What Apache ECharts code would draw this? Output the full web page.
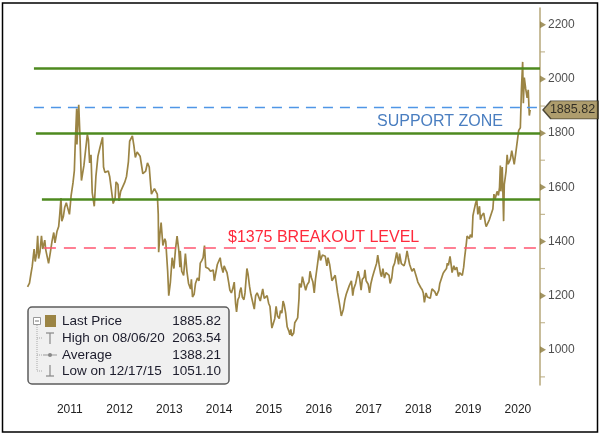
<!DOCTYPE html>
<html>
<head>
<meta charset="utf-8">
<script src="https://cdn.jsdelivr.net/npm/echarts@6/dist/echarts.min.js"></script>
<style>
html, body { margin: 0; padding: 0; background: #fff; }
#chart { width: 600px; height: 435px; }
</style>
</head>
<body>
<div id="chart"></div>
<script>
// gold price
var dates = [
	"2010-08-27","2010-09-10","2010-09-20","2010-09-30","2010-10-08","2010-10-14","2010-10-22","2010-11-01","2010-11-09","2010-11-16","2010-11-26","2010-12-07","2010-12-16","2010-12-31",
	"2011-01-07","2011-01-18","2011-01-28","2011-02-10","2011-02-22","2011-03-07","2011-03-16","2011-03-31","2011-04-12","2011-04-20","2011-04-29","2011-05-05","2011-05-16","2011-05-26","2011-06-07","2011-06-20","2011-06-30","2011-07-12","2011-07-26","2011-08-05","2011-08-11","2011-08-22","2011-08-24","2011-09-06","2011-09-15","2011-09-23","2011-09-26","2011-10-04","2011-10-14","2011-10-28","2011-11-08","2011-11-16","2011-11-25","2011-12-05","2011-12-14","2011-12-29",
	"2012-01-10","2012-01-25","2012-02-08","2012-02-28","2012-03-06","2012-03-16","2012-03-29","2012-04-10","2012-04-20","2012-05-03","2012-05-16","2012-05-30","2012-06-06","2012-06-20","2012-06-28","2012-07-10","2012-07-24","2012-08-10","2012-08-22","2012-09-05","2012-09-14","2012-09-28","2012-10-04","2012-10-15","2012-10-26","2012-11-08","2012-11-21","2012-11-30","2012-12-10","2012-12-20","2012-12-28",
	"2013-01-10","2013-01-23","2013-02-05","2013-02-15","2013-02-21","2013-03-05","2013-03-15","2013-03-28","2013-04-05","2013-04-12","2013-04-15","2013-04-24","2013-05-03","2013-05-16","2013-05-30","2013-06-06","2013-06-20","2013-06-28","2013-07-10","2013-07-23","2013-08-05","2013-08-16","2013-08-28","2013-09-10","2013-09-18","2013-09-20","2013-10-01","2013-10-15","2013-10-28","2013-11-08","2013-11-20","2013-12-05","2013-12-11","2013-12-19","2013-12-31",
	"2014-01-10","2014-01-24","2014-02-05","2014-02-14","2014-02-26","2014-03-07","2014-03-17","2014-03-26","2014-04-07","2014-04-15","2014-04-30","2014-05-08","2014-05-20","2014-05-28","2014-06-05","2014-06-19","2014-06-30","2014-07-10","2014-07-18","2014-07-31","2014-08-08","2014-08-20","2014-08-29","2014-09-10","2014-09-19","2014-09-30","2014-10-10","2014-10-21","2014-10-31","2014-11-07","2014-11-17","2014-11-26","2014-12-01","2014-12-10","2014-12-19","2014-12-31",
	"2015-01-08","2015-01-22","2015-01-30","2015-02-10","2015-02-20","2015-03-05","2015-03-17","2015-03-27","2015-04-07","2015-04-17","2015-04-30","2015-05-08","2015-05-18","2015-05-29","2015-06-10","2015-06-19","2015-06-30","2015-07-10","2015-07-20","2015-07-24","2015-08-05","2015-08-14","2015-08-24","2015-09-03","2015-09-16","2015-09-25","2015-10-05","2015-10-14","2015-10-23","2015-11-02","2015-11-13","2015-11-25","2015-12-03","2015-12-10","2015-12-17","2015-12-31",
	"2016-01-08","2016-01-20","2016-01-29","2016-02-08","2016-02-11","2016-02-24","2016-03-04","2016-03-11","2016-03-28","2016-04-08","2016-04-21","2016-04-29","2016-05-10","2016-05-20","2016-05-30","2016-06-08","2016-06-16","2016-06-24","2016-07-06","2016-07-15","2016-07-29","2016-08-10","2016-08-19","2016-08-31","2016-09-08","2016-09-20","2016-09-30","2016-10-07","2016-10-19","2016-10-31","2016-11-09","2016-11-18","2016-11-30","2016-12-08","2016-12-15","2016-12-30",
	"2017-01-10","2017-01-20","2017-01-31","2017-02-10","2017-02-22","2017-02-27","2017-03-09","2017-03-16","2017-03-30","2017-04-11","2017-04-17","2017-04-28","2017-05-09","2017-05-18","2017-05-31","2017-06-06","2017-06-15","2017-06-30","2017-07-10","2017-07-20","2017-07-31","2017-08-10","2017-08-18","2017-08-31","2017-09-08","2017-09-18","2017-09-29","2017-10-06","2017-10-16","2017-10-27","2017-11-08","2017-11-20","2017-11-30","2017-12-08","2017-12-20","2017-12-29",
	"2018-01-10","2018-01-25","2018-01-31","2018-02-08","2018-02-15","2018-02-28","2018-03-08","2018-03-20","2018-03-29","2018-04-11","2018-04-20","2018-04-30","2018-05-09","2018-05-17","2018-05-31","2018-06-08","2018-06-21","2018-06-29","2018-07-10","2018-07-20","2018-07-31","2018-08-08","2018-08-16","2018-08-28","2018-09-07","2018-09-18","2018-09-28","2018-10-11","2018-10-19","2018-10-31","2018-11-08","2018-11-13","2018-11-30","2018-12-07","2018-12-18","2018-12-31",
	"2019-01-10","2019-01-25","2019-01-31","2019-02-08","2019-02-20","2019-02-28","2019-03-07","2019-03-20","2019-03-29","2019-04-10","2019-04-23","2019-04-30","2019-05-10","2019-05-21","2019-05-31","2019-06-07","2019-06-20","2019-06-25","2019-07-03","2019-07-12","2019-07-19","2019-07-31","2019-08-07","2019-08-13","2019-08-26","2019-09-04","2019-09-12","2019-09-24","2019-10-01","2019-10-10","2019-10-25","2019-11-07","2019-11-12","2019-11-25","2019-12-05","2019-12-16","2019-12-31",
	"2020-01-08","2020-01-16","2020-01-31","2020-02-10","2020-02-18","2020-02-24","2020-02-28","2020-03-09","2020-03-19","2020-03-24","2020-04-06","2020-04-14","2020-04-21","2020-04-30","2020-05-08","2020-05-18","2020-05-29","2020-06-05","2020-06-16","2020-06-30","2020-07-08","2020-07-20","2020-07-28","2020-08-06","2020-08-11","2020-08-18","2020-08-28","2020-09-08","2020-09-16","2020-09-24","2020-09-30"
];
var prices = [
	1232,1246,1278,1308,1345,1372,1326,1355,1421,1337,1363,1421,1372,1405,
	1370,1367,1319,1360,1400,1433,1395,1438,1455,1500,1560,1475,1491,1525,1543,1541,1500,1568,1616,1662,1755,1891,1758,1905,1790,1660,1625,1650,1680,1745,1795,1775,1690,1720,1580,1530,
	1640,1715,1745,1785,1675,1655,1660,1660,1640,1640,1540,1560,1620,1610,1550,1585,1580,1620,1640,1695,1770,1775,1790,1755,1710,1730,1730,1715,1715,1650,1657,
	1660,1690,1675,1610,1575,1575,1595,1598,1575,1500,1360,1425,1470,1385,1410,1400,1290,1200,1250,1340,1300,1370,1420,1365,1305,1365,1290,1275,1355,1290,1245,1225,1260,1195,1205,
	1245,1265,1255,1320,1330,1340,1385,1305,1300,1300,1290,1290,1295,1255,1250,1315,1320,1340,1310,1285,1310,1295,1285,1250,1220,1210,1225,1250,1170,1140,1185,1195,1215,1230,1195,1185,
	1210,1300,1280,1235,1205,1200,1150,1200,1210,1205,1180,1185,1225,1190,1185,1200,1172,1160,1100,1080,1085,1115,1160,1125,1115,1145,1135,1180,1165,1135,1085,1070,1055,1075,1051,1062,
	1100,1095,1118,1190,1245,1230,1270,1255,1220,1240,1250,1290,1265,1250,1210,1260,1290,1320,1367,1330,1350,1345,1345,1310,1340,1315,1320,1255,1265,1275,1275,1210,1175,1170,1125,1150,
	1185,1205,1210,1235,1235,1255,1200,1225,1245,1275,1290,1265,1220,1260,1268,1295,1255,1242,1210,1245,1268,1285,1290,1320,1350,1315,1280,1270,1300,1265,1285,1280,1275,1245,1265,1305,
	1320,1360,1340,1315,1355,1318,1320,1310,1325,1365,1340,1315,1312,1290,1300,1298,1265,1250,1255,1230,1222,1210,1175,1210,1195,1200,1190,1225,1225,1215,1222,1200,1220,1245,1250,1282,
	1290,1300,1320,1312,1345,1315,1285,1310,1295,1305,1270,1285,1285,1275,1305,1340,1395,1420,1420,1410,1425,1415,1495,1510,1540,1555,1500,1530,1480,1495,1505,1465,1455,1455,1480,1475,1520,
	1575,1555,1585,1570,1600,1680,1585,1675,1475,1610,1660,1720,1685,1695,1705,1735,1730,1685,1725,1780,1810,1820,1960,2063,1910,2005,1965,1930,1960,1865,1886
];
var lastPrice = 1885.82;
var yearLabels = ["2011","2012","2013","2014","2015","2016","2017","2018","2019","2020"];
var majorTicks = [1000, 1200, 1400, 1600, 1800, 2000, 2200];
var minorTicks = [900, 1100, 1300, 1500, 1700, 1900, 2100];
var greenLevels = [2040, 1800, 1555];
var supportLevel = 1895;
var breakoutLevel = 1375;
var legendRows = [
	["Last Price", "1885.82"],
	["High on 08/06/20", "2063.54"],
	["Average", "1388.21"],
	["Low on 12/17/15", "1051.10"]
];

function toYear(s) {
	var d = Date.parse(s + "T00:00:00Z");
	var y = +s.slice(0, 4);
	var a = Date.UTC(y, 0, 1), b = Date.UTC(y + 1, 0, 1);
	return y + (d - a) / (b - a);
}

var xMin = 2010.5, xMax = 2020.944;
var priceData = [];
for (var i = 0; i < dates.length; i++) {
	priceData.push([toYear(dates[i]), prices[i]]);
}
priceData[priceData.length - 1][1] = lastPrice;

var font = "Liberation Sans, Arial, sans-serif";
var lineCol = "#9b8444";
var green = "#4e8a1f";

function hline(x0, v) {
	return [ { coord : [ x0, v ] }, { coord : [ xMax, v ] } ];
}

var legendG = [ {
	type : "rect",
	shape : { x : 28, y : 307, width : 201, height : 77, r : 4 },
	style : { fill : "#f0f0f0", stroke : "#5c5c5c", lineWidth : 1.5 }
}, {
	type : "rect",
	shape : { x : 33.5, y : 317.5, width : 7, height : 7 },
	style : { fill : "#fff", stroke : "#999", lineWidth : 1 }
}, {
	type : "line",
	shape : { x1 : 35, y1 : 321, x2 : 39, y2 : 321 },
	style : { stroke : "#777", lineWidth : 1 }
}, {
	type : "rect",
	shape : { x : 45, y : 315, width : 11, height : 12 },
	style : { fill : lineCol }
}, {
	type : "line",
	shape : { x1 : 37, y1 : 325, x2 : 37, y2 : 371 },
	style : { stroke : "#aaa", lineWidth : 1, lineDash : [ 1, 1 ] }
} ];
[338, 355, 371].forEach(function(y) {
	legendG.push({
		type : "line",
		shape : { x1 : 37, y1 : y, x2 : 42, y2 : y },
		style : { stroke : "#aaa", lineWidth : 1, lineDash : [ 1, 1 ] }
	});
});
// high / average / low markers
legendG.push(
	{ type : "line", shape : { x1 : 46, y1 : 333, x2 : 54, y2 : 333 }, style : { stroke : "#888", lineWidth : 1.2 } },
	{ type : "line", shape : { x1 : 50, y1 : 333, x2 : 50, y2 : 344 }, style : { stroke : "#888", lineWidth : 1.2 } },
	{ type : "line", shape : { x1 : 43, y1 : 355, x2 : 57, y2 : 355 }, style : { stroke : "#999", lineWidth : 1 } },
	{ type : "circle", shape : { cx : 50, cy : 355, r : 2 }, style : { fill : "#888" } },
	{ type : "line", shape : { x1 : 50, y1 : 365, x2 : 50, y2 : 376 }, style : { stroke : "#888", lineWidth : 1.2 } },
	{ type : "line", shape : { x1 : 46, y1 : 376, x2 : 54, y2 : 376 }, style : { stroke : "#888", lineWidth : 1.2 } }
);
var rowY = [321, 338, 355, 371];
legendRows.forEach(function(r, k) {
	legendG.push({
		type : "text", x : 62, y : rowY[k],
		style : { text : r[0], font : "13.5px " + font, fill : "#1c1c2c", verticalAlign : "middle" }
	}, {
		type : "text", x : 221, y : rowY[k],
		style : { text : r[1], font : "13.5px " + font, fill : "#1c1c2c", align : "right", verticalAlign : "middle" }
	});
});

var chart = echarts.init(document.getElementById("chart"));
var option = {
	animation : false,
	backgroundColor : "#fff",
	grid : { left : 20, right : 60, top : 8, bottom : 50 },
	xAxis : {
		type : "value",
		min : xMin,
		max : xMax,
		interval : 0.5,
		axisLine : { show : false },
		axisTick : { show : false },
		splitLine : { show : false },
		axisLabel : {
			margin : 19,
			fontSize : 12,
			fontFamily : font,
			color : "#222",
			formatter : function(v) {
				var k = Math.round(v - 0.5) - 2011;
				return (v % 1 === 0.5 && k >= 0) ? yearLabels[k] : "";
			}
		}
	},
	yAxis : {
		type : "value",
		position : "right",
		min : 870,
		max : 2262,
		axisLine : { show : true, lineStyle : { color : "#b6a77a", width : 1.5 } },
		axisTick : { show : false },
		axisLabel : { show : false },
		splitLine : { show : false }
	},
	series : [ {
		name : "Last Price",
		type : "line",
		data : priceData,
		showSymbol : false,
		lineStyle : { color : lineCol, width : 1.7 },
		z : 3,
		markLine : {
			silent : true,
			symbol : "none",
			label : { show : false },
			data : [
				hline(2010.78, greenLevels[0]),
				hline(2010.82, greenLevels[1]),
				hline(2010.94, greenLevels[2]),
				hline(2010.78, supportLevel),
				hline(2010.98, breakoutLevel)
			].map(function(d, k) {
				var st = k < 3 ? { color : green, width : 2.5, type : "solid" }
					: k === 3 ? { color : "#4f96e6", width : 1.3, type : [ 10, 7 ] }
					: { color : "#ff5670", width : 1.5, type : [ 12, 8 ] };
				d[0].lineStyle = st;
				return d;
			})
		}
	}, {
		name : "major",
		type : "scatter",
		clip : false,
		silent : true,
		symbol : "path://M0,0L10,5L0,10Z",
		symbolSize : [ 6, 7 ],
		symbolOffset : [ 3, 0 ],
		itemStyle : { color : "#8c7a3c" },
		label : {
			show : true,
			position : "right",
			distance : 2,
			fontSize : 12,
			fontFamily : font,
			color : "#222",
			formatter : function(p) { return p.value[1]; }
		},
		data : majorTicks.map(function(v) { return [ xMax, v ]; })
	}, {
		name : "minor",
		type : "scatter",
		clip : false,
		silent : true,
		symbol : "rect",
		symbolSize : [ 5, 1.2 ],
		symbolOffset : [ 2.5, 0 ],
		itemStyle : { color : "#b6a77a" },
		data : minorTicks.map(function(v) { return [ xMax, v ]; })
	}, {
		name : "tag",
		type : "scatter",
		clip : false,
		silent : true,
		symbol : "path://M0,9L8,0L56,0L56,18L8,18Z",
		symbolKeepAspect : false,
		symbolSize : [ 55, 18 ],
		symbolOffset : [ 30.5, 0 ],
		itemStyle : { color : "#9a8548", borderColor : "#2e2a1c", borderWidth : 1 },
		label : {
			show : true,
			position : "inside",
			offset : [ 2, 0 ],
			fontSize : 12.5,
			fontFamily : font,
			color : "#111",
			formatter : function(p) { return p.value[1].toFixed(2); }
		},
		z : 5,
		data : [ [ xMax, lastPrice ] ]
	} ],
	graphic : [ {
		type : "rect",
		shape : { x : 2.5, y : 3, width : 595, height : 429 },
		style : { fill : "none", stroke : "#000", lineWidth : 1.5 }
	}, {
		type : "text", x : 377, y : 122,
		style : { text : "SUPPORT ZONE", font : "16px " + font, fill : "#4a7ec0", verticalAlign : "middle" }
	}, {
		type : "text", x : 228, y : 238,
		style : { text : "$1375 BREAKOUT LEVEL", font : "16px " + font, fill : "#ff2a3c", verticalAlign : "middle" }
	}, {
		type : "group",
		children : legendG
	} ]
};
chart.setOption(option);
window.addEventListener("resize", chart.resize);
</script>
</body>
</html>
